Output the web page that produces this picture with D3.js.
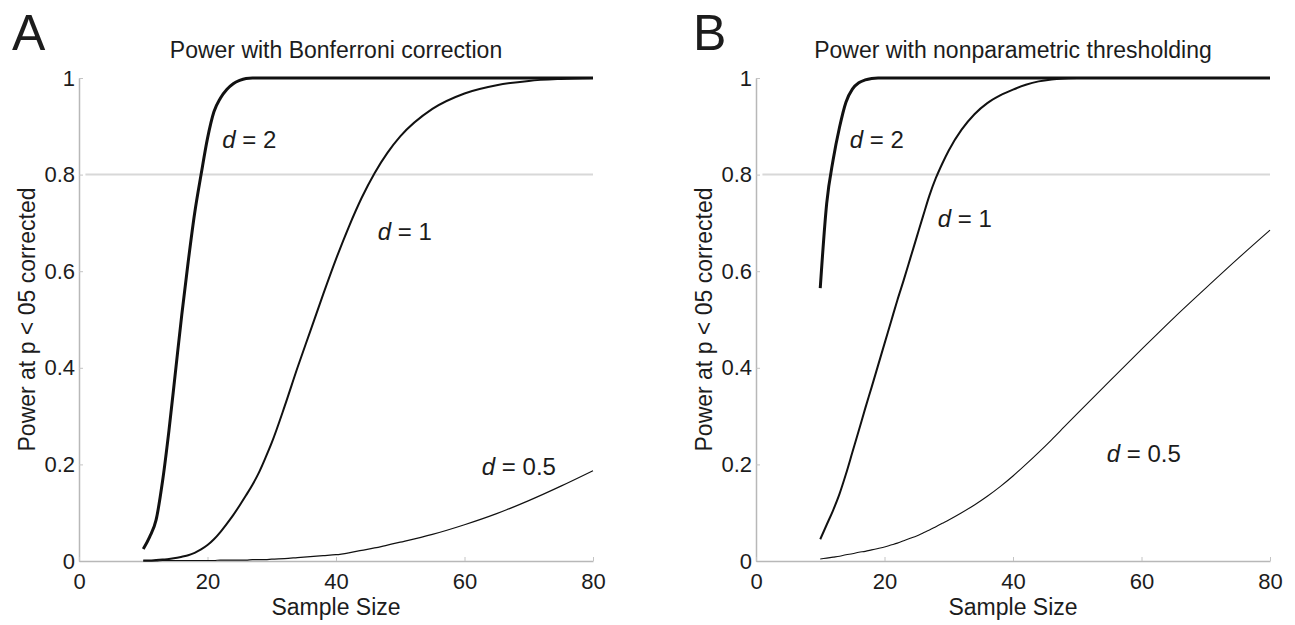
<!DOCTYPE html>
<html>
<head>
<meta charset="utf-8">
<script src="https://cdn.jsdelivr.net/npm/d3@7"></script>
<style>
  body { margin: 0; background: #fff; }
  svg text { font-family: "Liberation Sans", Arial, Helvetica, sans-serif; fill: #1c1c1c; }
  .lbl { white-space: pre; }
</style>
</head>
<body>
<svg id="chart" width="1295" height="625"></svg>
<script>
const sampleSizes = [10, 11, 12, 13, 14, 15, 16, 17, 18, 19, 20, 21, 22, 23, 24, 25, 26, 27, 28, 29, 30,
                     32, 34, 36, 38, 40, 42, 44, 46, 48, 50, 55, 60, 65, 70, 75, 80];

// A: Bonferroni correction
const bonfD2 = [0.025, 0.05, 0.085, 0.165, 0.27, 0.39, 0.51, 0.62, 0.72, 0.80, 0.875, 0.93, 0.958, 0.976, 0.988, 0.995, 0.999, 1, 1, 1, 1,
                1, 1, 1, 1, 1, 1, 1, 1, 1, 1, 1, 1, 1, 1, 1, 1];
const bonfD1 = [0.001, 0.001, 0.002, 0.003, 0.004, 0.006, 0.009, 0.012, 0.017, 0.024, 0.033, 0.045, 0.06, 0.077, 0.095, 0.115, 0.136, 0.158, 0.183, 0.213, 0.245,
                0.32, 0.40, 0.476, 0.552, 0.625, 0.692, 0.752, 0.803, 0.845, 0.879, 0.936, 0.968, 0.985, 0.994, 0.998, 1];
const bonfD05 = [0, 0, 0, 0.001, 0.001, 0.001, 0.001, 0.001, 0.001, 0.001, 0.001, 0.001, 0.002, 0.002, 0.002, 0.002, 0.002, 0.003, 0.003, 0.003, 0.004,
                 0.005, 0.007, 0.009, 0.011, 0.013, 0.017, 0.022, 0.027, 0.033, 0.039, 0.055, 0.075, 0.098, 0.125, 0.155, 0.187];

// B: nonparametric thresholding
const npD2 = [0.565, 0.74, 0.83, 0.898, 0.95, 0.977, 0.99, 0.996, 0.999, 1, 1, 1, 1, 1, 1, 1, 1, 1, 1, 1, 1,
              1, 1, 1, 1, 1, 1, 1, 1, 1, 1, 1, 1, 1, 1, 1, 1];
const npD1 = [0.045, 0.075, 0.105, 0.139, 0.18, 0.225, 0.27, 0.316, 0.36, 0.405, 0.45, 0.495, 0.54, 0.582, 0.626, 0.67, 0.714, 0.757, 0.793, 0.823, 0.85,
              0.893, 0.925, 0.948, 0.964, 0.976, 0.986, 0.993, 0.997, 0.999, 1, 1, 1, 1, 1, 1, 1];
const npD05 = [0.004, 0.006, 0.008, 0.01, 0.013, 0.015, 0.018, 0.02, 0.023, 0.026, 0.029, 0.033, 0.037, 0.042, 0.047, 0.052, 0.058, 0.064, 0.071, 0.078, 0.085,
               0.10, 0.116, 0.134, 0.154, 0.176, 0.20, 0.225, 0.251, 0.278, 0.305, 0.372, 0.438, 0.503, 0.565, 0.626, 0.685];

const xTicks = [0, 20, 40, 60, 80];
const xTickLabels = ["0", "20", "40", "60", "80"];
const yTicks = [0, 0.2, 0.4, 0.6, 0.8, 1];
const yTickLabels = ["0", "0.2", "0.4", "0.6", "0.8", "1"];
const powerTarget = 0.8;

const panels = [
  {
    letter: "A", letterX: 12, yLabelX: 35, left: 79,
    title: "Power with Bonferroni correction",
    series: [
      { d: "2", values: bonfD2, width: 3, at: [22.3, 0.855] },
      { d: "1", values: bonfD1, width: 2, at: [46.5, 0.665] },
      { d: "0.5", values: bonfD05, width: 1.2, at: [62.7, 0.178] }
    ]
  },
  {
    letter: "B", letterX: 693, yLabelX: 712, left: 756,
    title: "Power with nonparametric thresholding",
    series: [
      { d: "2", values: npD2, width: 3, at: [14.6, 0.855] },
      { d: "1", values: npD1, width: 2, at: [28.3, 0.692] },
      { d: "0.5", values: npD05, width: 1.1, at: [54.6, 0.205] }
    ]
  }
];

const svg = d3.select("#chart");
const plotTop = 78, plotBottom = 561, plotW = 514;

function drawPanel(p) {
  const x = d3.scaleLinear().domain([0, 80]).range([p.left, p.left + plotW]);
  const y = d3.scaleLinear().domain([0, 1]).range([plotBottom, plotTop]);
  const g = svg.append("g");

  // 80% power reference line
  g.append("line")
    .attr("x1", x(1)).attr("x2", x(80))
    .attr("y1", y(powerTarget)).attr("y2", y(powerTarget))
    .attr("stroke", "#d8d8d8")
    .attr("stroke-width", 2);

  const yAxis = d3.axisLeft(y)
    .tickValues(yTicks)
    .tickFormat(function(d, i) { return yTickLabels[i]; })
    .tickSizeInner(-4).tickSizeOuter(0).tickPadding(4);
  const xAxis = d3.axisBottom(x)
    .tickValues(xTicks)
    .tickFormat(function(d, i) { return xTickLabels[i]; })
    .tickSizeInner(-4).tickSizeOuter(0).tickPadding(12);

  const ya = g.append("g").attr("transform", "translate(" + p.left + ",0)").call(yAxis);
  const xa = g.append("g").attr("transform", "translate(0," + plotBottom + ")").call(xAxis);
  [ya, xa].forEach(function(a) {
    a.select(".domain").attr("stroke", "#b8b8b8").attr("stroke-width", 1.5);
    a.selectAll(".tick line").attr("stroke", "#c4c4c4");
    a.selectAll(".tick text").style("font-size", "22px").attr("fill", "#222");
  });

  // power curves
  const line = d3.line()
    .x(function(d) { return x(d[0]); })
    .y(function(d) { return y(d[1]); })
    .curve(d3.curveMonotoneX);

  p.series.forEach(function(s) {
    g.append("path")
      .datum(d3.zip(sampleSizes, s.values))
      .attr("d", line)
      .attr("fill", "none")
      .attr("stroke", "#111")
      .attr("stroke-width", s.width)
      .attr("stroke-linejoin", "round");

    const t = g.append("text")
      .attr("class", "lbl")
      .attr("x", x(s.at[0]))
      .attr("y", y(s.at[1]))
      .style("font-size", "24px");
    t.append("tspan").style("font-style", "italic").text("d");
    t.append("tspan").text(" = " + s.d);
  });

  // titles and axis labels
  g.append("text")
    .attr("x", x(40)).attr("y", 58)
    .attr("text-anchor", "middle")
    .style("font-size", "23px")
    .text(p.title);

  g.append("text")
    .attr("x", p.letterX).attr("y", 50)
    .style("font-size", "50px")
    .text(p.letter);

  g.append("text")
    .attr("x", x(40)).attr("y", 615)
    .attr("text-anchor", "middle")
    .style("font-size", "23px")
    .text("Sample Size");

  g.append("text")
    .attr("transform", "translate(" + p.yLabelX + "," + ((plotTop + plotBottom) / 2) + ") rotate(-90)")
    .attr("text-anchor", "middle")
    .style("font-size", "23px")
    .text("Power at p < 05 corrected");
}

panels.forEach(drawPanel);
</script>
</body>
</html>
